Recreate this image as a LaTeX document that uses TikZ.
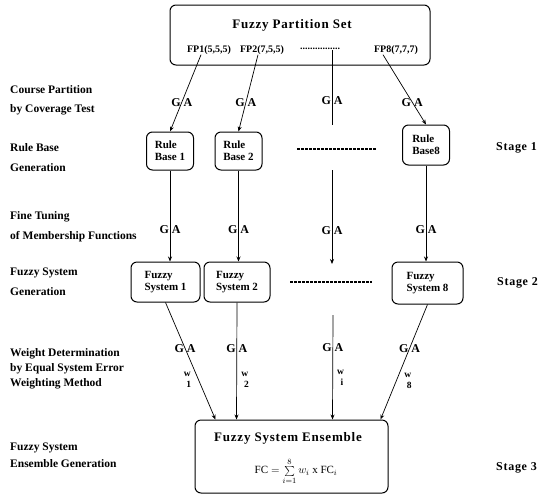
\documentclass[tikz,border=0pt]{standalone}
\usepackage{fontspec}
\setmainfont{Liberation Serif}
\newfontfamily\headfont[LetterSpace=6]{Liberation Serif}
\usetikzlibrary{arrows.meta,calc}
\begin{document}
\begin{tikzpicture}[x=1pt,y=-1pt,
  lbl/.style={anchor=west,inner sep=0pt,font=\bfseries\fontsize{11.5}{14}\selectfont},
  rbox/.style={draw,rounded corners=6pt,line width=1pt,inner sep=2pt,align=left,
    font=\bfseries\fontsize{11}{12}\selectfont},
  fp/.style={inner sep=0pt,font=\bfseries\fontsize{10}{12}\selectfont},
  head/.style={inner sep=0pt,font=\headfont\bfseries\fontsize{13}{15}\selectfont},
  stagelbl/.style={anchor=east,inner sep=0pt,font=\headfont\bfseries\fontsize{12}{14}\selectfont},
  ga/.style={inner sep=0pt,font=\bfseries\fontsize{12}{12}\selectfont},
  wl/.style={inner sep=0pt,font=\bfseries\fontsize{9.5}{11}\selectfont,align=center},
  conn/.style={line width=0.7pt},
  arr/.style={conn,-{Stealth[length=5pt,width=4pt]}},
  sep/.style={line width=1.3pt,dash pattern=on 2.5pt off 1.5pt}]
\useasboundingbox (0,0) rectangle (538,499);

% top box
\node[rbox,minimum width=260,minimum height=60] (fps) at (300,35) {};
\node[head] (title) at (292,25) {Fuzzy Partition Set};
\node[fp] (fp1) at (209,50) {FP1(5,5,5)};
\node[fp] (fp2) at (262,50) {FP2(7,5,5)};
\node[fp] (fpd) at (320,49) {................};
\node[fp] (fp8) at (396,50) {FP8(7,7,7)};
\coordinate (s1) at ($(fp1.south)+(-8,0)$);
\coordinate (s2) at ($(fp2.south)+(-4,0)$);
\coordinate (sd) at ($(fpd.south)+(12,0)$);
\coordinate (s8) at ($(fp8.south)+(-13,0)$);

% left labels
\node[lbl] (l1a) at (10,90) {Course Partition};
\node[lbl] (l1b) at (10,110) {by Coverage Test};
\node[lbl] (l2a) at (10,148) {Rule Base};
\node[lbl] (l2b) at (10,168) {Generation};
\node[lbl] (l3a) at (10,217) {Fine Tuning};
\node[lbl] (l3b) at (10,237) {of Membership Functions};
\node[lbl] (l4a) at (10,273) {Fuzzy System};
\node[lbl] (l4b) at (10,292) {Generation};
\node[lbl] (l5a) at (10,354) {Weight Determination};
\node[lbl] (l5b) at (10,369) {by Equal System Error};
\node[lbl] (l5c) at (10,384) {Weighting Method};
\node[lbl] (l6a) at (10,448) {Fuzzy System};
\node[lbl] (l6b) at (10,464) {Ensemble Generation};

% stage labels
\node[stagelbl] (st1) at (537,148) {Stage 1};
\node[stagelbl] (st2) at (538,283) {Stage 2};
\node[stagelbl] (st3) at (537,468) {Stage 3};

% rule bases
\node[rbox,minimum width=47,minimum height=38] (rb1) at (170,151) {Rule\\Base 1};
\node[rbox,minimum width=47,minimum height=38] (rb2) at (238.5,151) {Rule\\Base 2};
\node[rbox,minimum width=47,minimum height=40] (rb8) at (426,145) {Rule\\Base8};
\draw[sep] (297,149) -- (376,149);

% fuzzy systems
\node[rbox,minimum width=69,minimum height=40] (fs1) at (165.5,282) {Fuzzy\\System 1};
\node[rbox,minimum width=66,minimum height=40] (fs2) at (237,282) {Fuzzy\\System 2};
\node[rbox,minimum width=71,minimum height=42] (fs8) at (427.5,283) {Fuzzy\\System 8};
\draw[sep] (290,282) -- (372,282);

% ensemble
\node[rbox,minimum width=193,minimum height=73] (ens) at (291.5,456.5) {};
\node[head] (enst) at (288,438) {Fuzzy System Ensemble};
\node[inner sep=0pt,font=\fontsize{11}{13}\selectfont] (form) at (296,471)
  {$\mathrm{FC} = \sum\limits_{i=1}^{8} w_{i}\ \mathrm{x}\ \mathrm{FC}_{i}$};
\coordinate (e1) at ($(ens.north west)+(21,0)$);
\coordinate (e2) at ($(ens.north west)+(42,0)$);
\coordinate (ei) at ($(ens.north west)+(138,0)$);
\coordinate (e8) at ($(ens.north west)+(186,0)$);

% stage 1 connectors
\draw[arr] (s1) -- node[ga,pos=0.62]{G\hspace{3pt}A} (rb1.north);
\draw[arr] (s2) -- node[ga,pos=0.62]{G\hspace{3pt}A} (rb2.north);
\coordinate (m1) at (332,125);
\draw[conn] (sd) -- node[ga,pos=0.68]{G\hspace{3pt}A} (m1);
\draw[arr] (s8) -- node[ga,pos=0.68]{G\hspace{3pt}A} (rb8.north);

% stage 2 connectors
\draw[arr] (rb1.south) -- node[ga,pos=0.65]{G\hspace{3pt}A} (rb1.south |- fs1.north);
\draw[arr] (rb2.south) -- node[ga,pos=0.65]{G\hspace{3pt}A} (rb2.south |- fs2.north);
\coordinate (m2) at (332,170);
\coordinate (m3) at (332,264);
\draw[arr] (m2) -- node[ga,pos=0.64]{G\hspace{3pt}A} (m3);
\draw[arr] (rb8.south) -- node[ga,pos=0.67]{G\hspace{3pt}A} (rb8.south |- fs8.north);

% stage 3 connectors
\draw[arr] (fs1.south) -- node[ga,pos=0.39]{G\hspace{3pt}A}
  node[wl,pos=0.66,left=7pt]{w\\\hspace{3pt}1} (e1);
\draw[arr] (fs2.south) -- node[ga,pos=0.39]{G\hspace{3pt}A}
  node[wl,pos=0.66,right=4pt]{w\\\hspace{3pt}2} (e2);
\coordinate (m4) at (333,315);
\draw[arr] (m4) -- node[ga,pos=0.31]{G\hspace{3pt}A}
  node[wl,pos=0.6,right=4pt]{w\\\hspace{3pt}i} (ei);
\draw[arr] (fs8.south) -- node[ga,pos=0.38]{G\hspace{3pt}A}
  node[wl,pos=0.66,right=7pt]{w\\\hspace{3pt}8} (e8);
\end{tikzpicture}
\end{document}
